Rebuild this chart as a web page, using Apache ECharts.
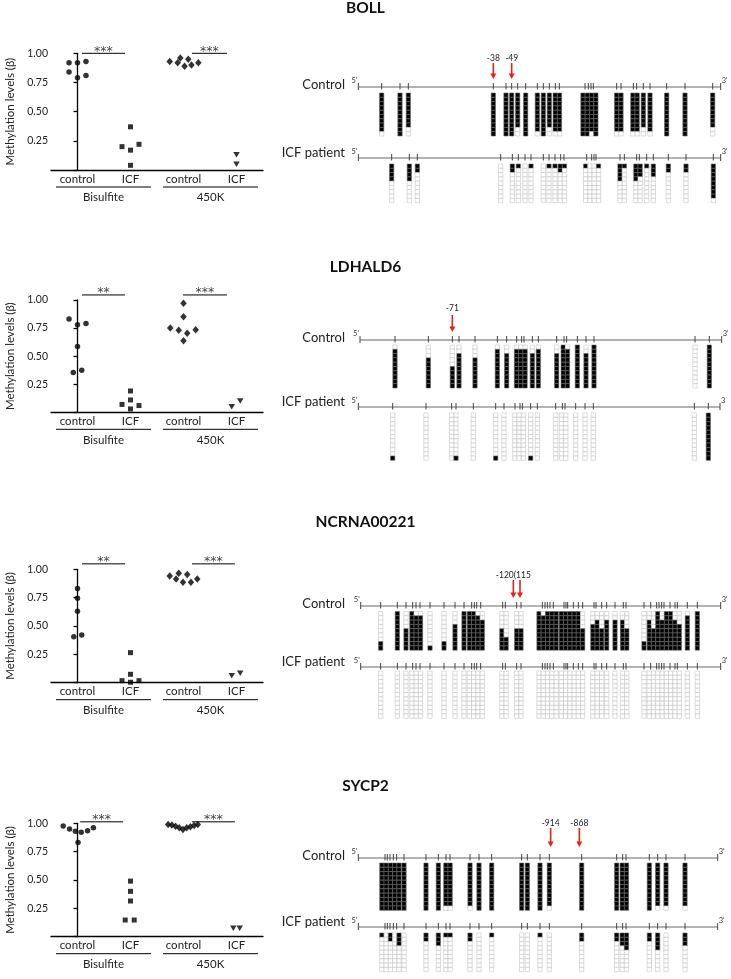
<!DOCTYPE html>
<html><head><meta charset="utf-8">
<script src="https://cdn.jsdelivr.net/npm/echarts@6.0.0/dist/echarts.min.js"></script>
<style>html,body{margin:0;padding:0;background:#fff}#c{width:731px;height:979px}</style>
</head><body><div id="c"></div>
<script>
// ================= DATA =================
const genes = ['BOLL', 'LDHALD6', 'NCRNA00221', 'SYCP2'];
const xCategories = ['control', 'ICF', 'control', 'ICF'];
const methodLabels = ['Bisulfite', '450K'];
const yTickValues = [0, 0.25, 0.5, 0.75, 1.0];
const yAxisTitle = 'Methylation levels (β)';

// --- scatter values (β) and within-group horizontal jitter (category units) ---
const BOLL_bisControl = [0.92, 0.92, 0.93, 0.84, 0.79, 0.81];
const BOLL_bisControlJit = [-0.16, 0, 0.16, -0.16, 0, 0.16];
const BOLL_bisICF = [0.37, 0.20, 0.17, 0.22, 0.04];
const BOLL_bisICFJit = [0, -0.16, 0, 0.16, 0];
const BOLL_k450Control = [0.93, 0.92, 0.96, 0.95, 0.89, 0.90, 0.92];
const BOLL_k450ControlJit = [-0.26, -0.11, -0.06, 0.09, 0.02, 0.15, 0.28];
const BOLL_k450ICF = [0.13, 0.05];
const BOLL_k450ICFJit = [0, 0];

const LDH_bisControl = [0.83, 0.78, 0.79, 0.585, 0.355, 0.375];
const LDH_bisControlJit = [-0.16, 0, 0.16, 0, -0.08, 0.08];
const LDH_bisICF = [0.19, 0.11, 0.07, 0.06, 0.03];
const LDH_bisICFJit = [0, 0, -0.16, 0.16, 0];
const LDH_k450Control = [0.97, 0.85, 0.75, 0.73, 0.705, 0.735, 0.637];
const LDH_k450ControlJit = [0, 0, -0.25, -0.09, 0.07, 0.23, 0];
const LDH_k450ICF = [0.05, 0.10];
const LDH_k450ICFJit = [-0.09, 0.07];

const NC_bisControl = [0.83, 0.745, 0.63, 0.405, 0.42];
const NC_bisControlJit = [0, 0, 0, -0.07, 0.08];
const NC_bisICF = [0.265, 0.074, 0.018, 0.004, 0.018];
const NC_bisICFJit = [0, 0, -0.16, 0, 0.16];
const NC_k450Control = [0.94, 0.965, 0.955, 0.915, 0.885, 0.885, 0.915];
const NC_k450ControlJit = [-0.26, -0.09, 0.07, -0.14, -0.01, 0.14, 0.26];
const NC_k450ICF = [0.062, 0.083];
const NC_k450ICFJit = [-0.09, 0.07];

const SY_bisControl = [0.977, 0.95, 0.93, 0.92, 0.935, 0.96, 0.83];
const SY_bisControlJit = [-0.27, -0.15, -0.04, 0.07, 0.19, 0.30, 0.01];
const SY_bisICF = [0.49, 0.40, 0.315, 0.147, 0.147];
const SY_bisICFJit = [0, 0, 0, -0.1, 0.07];
const SY_k450Control = [0.99, 0.985, 0.975, 0.96, 0.945, 0.96, 0.97, 0.98, 0.99];
const SY_k450ControlJit = [-0.29, -0.22, -0.15, -0.08, -0.01, 0.06, 0.13, 0.2, 0.27];
const SY_k450ICF = [0.074, 0.074];
const SY_k450ICFJit = [-0.06, 0.06];

// --- significance ---
const BOLL_sig = ['***', '***'];
const LDH_sig = ['**', '***'];
const NC_sig = ['**', '***'];
const SY_sig = ['***', '***'];

// --- bisulfite sequencing: CpG positions (amplicon units) and methylated clone counts ---
const BOLL_ctrlCpG = [275, 330, 355, 610, 648, 665, 683, 707, 742, 760, 778, 796, 808, 885, 895, 903, 910, 980, 993, 1030, 1040, 1060, 1080, 1130, 1185, 1268];
const BOLL_ctrlMeth = [9, 10, 8, 10, 10, 10, 8, 10, 9, 10, 8, 9, 9, 10, 10, 9, 10, 9, 9, 9, 9, 8, 9, 10, 10, 8];
const BOLL_ctrlClones = 10;
const BOLL_icfCpG = [305, 358, 382, 632, 667, 685, 705, 723, 760, 777, 795, 812, 822, 890, 905, 912, 918, 990, 1003, 1040, 1048, 1070, 1090, 1135, 1188, 1270];
const BOLL_icfMeth = [4, 4, 2, 0, 2, 1, 0, 1, 0, 1, 1, 2, 1, 1, 0, 0, 1, 4, 1, 4, 3, 1, 3, 2, 2, 8];
const BOLL_icfClones = 9;
const BOLL_arrowPos = [610, 665];
const BOLL_arrowText = ['-38', '-49'];

const LDH_ctrlCpG = [315, 415, 487, 507, 555, 622, 650, 680, 695, 702, 727, 745, 800, 822, 830, 862, 888, 912, 1215, 1258];
const LDH_ctrlMeth = [9, 7, 5, 8, 7, 9, 8, 9, 9, 9, 8, 9, 8, 10, 9, 10, 8, 10, 0, 10];
const LDH_ctrlClones = 10;
const LDH_icfCpG = [308, 408, 485, 498, 550, 617, 642, 675, 690, 697, 722, 742, 797, 817, 825, 857, 885, 910, 1213, 1255];
const LDH_icfMeth = [1, 0, 0, 1, 0, 1, 0, 0, 0, 0, 1, 0, 0, 0, 0, 0, 0, 0, 0, 11];
const LDH_icfClones = 11;
const LDH_arrowPos = [487];
const LDH_arrowText = ['-71'];

const NC_CpG = [272, 322, 348, 368, 378, 390, 420, 462, 495, 522, 545, 553, 560, 572, 638, 646, 680, 693, 757, 765, 772, 780, 790, 822, 828, 833, 850, 865, 878, 912, 918, 935, 950, 975, 1000, 1008, 1062, 1082, 1100, 1107, 1115, 1122, 1140, 1155, 1162, 1192, 1222];
const NC_ctrlMeth = [2, 9, 5, 9, 8, 8, 1, 2, 6, 9, 9, 9, 8, 7, 5, 3, 5, 5, 9, 8, 9, 9, 9, 9, 9, 9, 9, 9, 5, 6, 7, 5, 7, 7, 7, 5, 2, 7, 5, 9, 7, 9, 9, 7, 6, 8, 9];
const NC_ctrlClones = 9;
const NC_icfMeth = NC_CpG.map(() => 0);
const NC_icfClones = 11;
const NC_arrowPos = [670, 690];
const NC_arrowText = ['-120(115', ''];

const SY_CpG = [285, 292, 300, 310, 320, 342, 408, 445, 468, 480, 540, 567, 605, 695, 712, 750, 778, 875, 980, 998, 1008, 1078, 1103, 1128, 1185];
const SY_ctrlMeth = [11, 11, 11, 11, 11, 11, 11, 11, 10, 10, 10, 11, 11, 11, 11, 11, 10, 11, 11, 11, 11, 11, 10, 10, 10];
const SY_ctrlClones = 11;
const SY_icfMeth = [1, 0, 2, 0, 3, 0, 2, 3, 1, 1, 2, 0, 1, 0, 0, 1, 0, 2, 2, 3, 4, 2, 4, 0, 3];
const SY_icfClones = 9;
const SY_arrowPos = [782, 868];
const SY_arrowText = ['-914', '-868'];

// amplicon extents (start, end) for control and ICF tracks
const BOLL_ctrlSpan = [205, 1292], BOLL_icfSpan = [205, 1292];
const LDH_ctrlSpan = [210, 1295], LDH_icfSpan = [205, 1290];
const NC_ctrlSpan = [212, 1292], NC_icfSpan = [212, 1292];
const SY_ctrlSpan = [205, 1283], SY_icfSpan = [205, 1283];

// ================= LAYOUT (pixels) =================
const FONT = 'Lato, "Open Sans", sans-serif';
const titleTops = [0, 259, 514, 778];
const scatterLayout = [
  {top: 53.3, height: 116.7, sigY: 1.0},
  {top: 300, height: 112.3, sigY: 1.045},
  {top: 569.3, height: 113.4, sigY: 1.048},
  {top: 823.3, height: 113.4, sigY: 1.013}
];
const sigSpans = [
  [[0.085, 0.896], [2.16, 2.82]],
  [[0.085, 0.896], [1.99, 2.82]],
  [[0.085, 0.896], [2.16, 2.97]],
  [[0.05, 0.86], [2.16, 2.97]]
];
const bracketSpans = [[-0.406, 1.387], [1.613, 3.406]];
const rightLayout = [
  {ctrlLine: 87, ctrlTop: 93, icfLine: 158, icfTop: 164, arrowTop: 63, arrowBottom: 79, labelY: 58},
  {ctrlLine: 340, ctrlTop: 345, icfLine: 407, icfTop: 413, arrowTop: 315, arrowBottom: 332, labelY: 308},
  {ctrlLine: 606, ctrlTop: 611.5, icfLine: 667, icfTop: 671, arrowTop: 580, arrowBottom: 598, labelY: 575},
  {ctrlLine: 858, ctrlTop: 863, icfLine: 927, icfTop: 933, arrowTop: 828, arrowBottom: 847, labelY: 823}
];
const COL_W = 12.9;  // column width in amplicon units (=4.3px)
const ROW_H = 4.3;   // row height in px units

// ================= BUILD =================
const panels = [
  {groups: [[BOLL_bisControl, BOLL_bisControlJit], [BOLL_bisICF, BOLL_bisICFJit], [BOLL_k450Control, BOLL_k450ControlJit], [BOLL_k450ICF, BOLL_k450ICFJit]], sig: BOLL_sig,
   tracks: [{cpg: BOLL_ctrlCpG, meth: BOLL_ctrlMeth, rows: BOLL_ctrlClones, span: BOLL_ctrlSpan, fromBottom: false, name: 'Control', end: "3'"},
            {cpg: BOLL_icfCpG, meth: BOLL_icfMeth, rows: BOLL_icfClones, span: BOLL_icfSpan, fromBottom: false, name: 'ICF patient', end: "3'"}],
   arrows: [BOLL_arrowPos, BOLL_arrowText]},
  {groups: [[LDH_bisControl, LDH_bisControlJit], [LDH_bisICF, LDH_bisICFJit], [LDH_k450Control, LDH_k450ControlJit], [LDH_k450ICF, LDH_k450ICFJit]], sig: LDH_sig,
   tracks: [{cpg: LDH_ctrlCpG, meth: LDH_ctrlMeth, rows: LDH_ctrlClones, span: LDH_ctrlSpan, fromBottom: true, name: 'Control', end: "3'"},
            {cpg: LDH_icfCpG, meth: LDH_icfMeth, rows: LDH_icfClones, span: LDH_icfSpan, fromBottom: true, name: 'ICF patient', end: "3"}],
   arrows: [LDH_arrowPos, LDH_arrowText]},
  {groups: [[NC_bisControl, NC_bisControlJit], [NC_bisICF, NC_bisICFJit], [NC_k450Control, NC_k450ControlJit], [NC_k450ICF, NC_k450ICFJit]], sig: NC_sig,
   tracks: [{cpg: NC_CpG, meth: NC_ctrlMeth, rows: NC_ctrlClones, span: NC_ctrlSpan, fromBottom: true, name: 'Control', end: "3'"},
            {cpg: NC_CpG, meth: NC_icfMeth, rows: NC_icfClones, span: NC_icfSpan, fromBottom: true, name: 'ICF patient', end: "3'"}],
   arrows: [NC_arrowPos, NC_arrowText]},
  {groups: [[SY_bisControl, SY_bisControlJit], [SY_bisICF, SY_bisICFJit], [SY_k450Control, SY_k450ControlJit], [SY_k450ICF, SY_k450ICFJit]], sig: SY_sig,
   tracks: [{cpg: SY_CpG, meth: SY_ctrlMeth, rows: SY_ctrlClones, span: SY_ctrlSpan, fromBottom: false, name: 'Control', end: "3'"},
            {cpg: SY_CpG, meth: SY_icfMeth, rows: SY_icfClones, span: SY_icfSpan, fromBottom: false, name: 'ICF patient', end: "3'"}],
   arrows: [SY_arrowPos, SY_arrowText]}
];

function spreadColumns(ticks, w) {
  let cl = ticks.map(t => ({s: t, n: 1}));
  let merged = true;
  while (merged) {
    merged = false;
    for (let i = 0; i < cl.length - 1; i++) {
      const a = cl[i], b = cl[i + 1];
      const ra = a.s / a.n + a.n * w / 2, lb = b.s / b.n - b.n * w / 2;
      if (ra > lb + 0.5) { cl.splice(i, 2, {s: a.s + b.s, n: a.n + b.n}); merged = true; break; }
    }
  }
  const out = [];
  cl.forEach(c => { const m = c.s / c.n; for (let k = 0; k < c.n; k++) out.push(m + (k - (c.n - 1) / 2) * w); });
  return out;
}

const symbols = [
  {symbol: 'circle', size: 5.5, rotate: 0},
  {symbol: 'rect', size: 5, rotate: 0},
  {symbol: 'diamond', size: [6.5, 7.5], rotate: 0},
  {symbol: 'triangle', size: [6.5, 5.5], rotate: 180}
];

const grids = [], xAxes = [], yAxes = [], series = [];
panels.forEach((p, i) => {
  const L = scatterLayout[i];
  grids.push({left: 51, width: 212, top: L.top, height: L.height});
  xAxes.push({type: 'category', gridIndex: i, data: xCategories, boundaryGap: true, position: 'bottom',
    axisLine: {lineStyle: {color: '#000', width: 1.3}}, axisTick: {show: false},
    axisLabel: {margin: 3, fontFamily: FONT, fontSize: 11.5, color: '#222'}, splitLine: {show: false}});
  xAxes.push({type: 'value', gridIndex: i, min: -0.5, max: 3.5, show: false});
  yAxes.push({type: 'value', gridIndex: i, min: yTickValues[0], max: yTickValues[yTickValues.length - 1], interval: 0.25,
    name: yAxisTitle, nameLocation: 'middle', nameGap: 35,
    nameTextStyle: {fontFamily: FONT, fontSize: 11.5, color: '#222'},
    axisLine: {show: true, lineStyle: {color: '#000', width: 1.3}},
    axisTick: {show: true, length: 4, lineStyle: {color: '#000', width: 1.3}},
    axisLabel: {formatter: v => v === 0 ? '' : v.toFixed(2), fontFamily: FONT, fontSize: 10.5, color: '#222', margin: 3},
    splitLine: {show: false}});
  p.groups.forEach((g, k) => {
    series.push({type: 'scatter', xAxisIndex: 2 * i + 1, yAxisIndex: i,
      symbol: symbols[k].symbol, symbolSize: symbols[k].size, symbolRotate: symbols[k].rotate,
      itemStyle: {color: '#000'}, data: g[0].map((v, j) => [k + g[1][j], v])});
  });
  // annotations: significance bars + method brackets
  const annots = [];
  sigSpans[i].forEach((s, k) => annots.push({kind: 'sig', x1: s[0], x2: s[1], y: L.sigY, text: p.sig[k]}));
  bracketSpans.forEach((s, k) => annots.push({kind: 'br', x1: s[0], x2: s[1], text: methodLabels[k]}));
  series.push({type: 'custom', xAxisIndex: 2 * i + 1, yAxisIndex: i, silent: true,
    data: annots.map(a => [a.x1, a.x2]),
    renderItem: (params, api) => {
      const a = annots[params.dataIndex];
      if (a.kind === 'sig') {
        const p1 = api.coord([a.x1, a.y]), p2 = api.coord([a.x2, a.y]);
        return {type: 'group', children: [
          {type: 'line', shape: {x1: p1[0], y1: p1[1], x2: p2[0], y2: p2[1]}, style: {stroke: '#000', lineWidth: 1}},
          {type: 'text', style: {text: a.text, x: (p1[0] + p2[0]) / 2, y: p1[1] - 2, align: 'center', verticalAlign: 'middle',
            fontFamily: '"DejaVu Sans"', fontSize: 12.5, fill: '#444'}}
        ]};
      } else {
        const p1 = api.coord([a.x1, 0]), p2 = api.coord([a.x2, 0]);
        const y = p1[1] + 17;
        return {type: 'group', children: [
          {type: 'line', shape: {x1: p1[0], y1: y, x2: p2[0], y2: y}, style: {stroke: '#000', lineWidth: 1}},
          {type: 'text', style: {text: a.text, x: (p1[0] + p2[0]) / 2, y: p1[1] + 27.5, align: 'center', verticalAlign: 'middle',
            fontFamily: FONT, fontSize: 11.5, fill: '#222'}}
        ]};
      }
    }});
});

// right-hand bisulfite sequencing diagrams: one shared grid (x: amplicon units, y: px)
const RG = 4;
grids.push({left: 290, top: 0, width: 441, height: 979});
xAxes.push({type: 'value', gridIndex: RG, min: 0, max: 1323, show: false});
yAxes.push({type: 'value', gridIndex: RG, min: 0, max: 979, inverse: true, show: false});
const RX = xAxes.length - 1, RY = yAxes.length - 1;

const allTracks = [];
panels.forEach((p, i) => {
  const R = rightLayout[i];
  p.tracks.forEach((t, k) => {
    const tr = Object.assign({}, t, {
      line: k === 0 ? R.ctrlLine : R.icfLine,
      top: k === 0 ? R.ctrlTop : R.icfTop,
      labelDy: k === 0 ? -2.5 : -5,
      cols: spreadColumns(t.cpg, COL_W)
    });
    allTracks.push(tr);
    series.push({type: 'custom', xAxisIndex: RX, yAxisIndex: RY, silent: true,
      data: tr.cols.map((x, j) => [x, tr.meth[j]]),
      renderItem: (params, api) => {
        const x = api.value(0), m = api.value(1);
        const sz = api.size([COL_W, ROW_H]);
        const w = Math.abs(sz[0]), h = Math.abs(sz[1]);
        const c = api.coord([x, tr.top]);
        const children = [];
        for (let r = 0; r < tr.rows; r++) {
          const black = tr.fromBottom ? r >= tr.rows - m : r < m;
          children.push({type: 'rect', shape: {x: c[0] - w / 2, y: c[1] + r * h, width: w, height: h},
            style: {fill: black ? '#000' : '#fff', stroke: black ? '#6a6a6a' : '#c4c4c4', lineWidth: 0.6}});
        }
        return {type: 'group', children};
      }});
  });
});

// track lines, CpG ticks and labels
series.push({type: 'custom', xAxisIndex: RX, yAxisIndex: RY, silent: true,
  data: allTracks.map(t => [t.span[0], t.line]),
  renderItem: (params, api) => {
    const t = allTracks[params.dataIndex];
    const a = api.coord([t.span[0], t.line]), b = api.coord([t.span[1], t.line]);
    const ch = [
      {type: 'line', shape: {x1: a[0], y1: a[1], x2: b[0], y2: b[1]}, style: {stroke: '#666', lineWidth: 1}},
      {type: 'line', shape: {x1: a[0], y1: a[1] - 4, x2: a[0], y2: a[1] + 3}, style: {stroke: '#444', lineWidth: 1}},
      {type: 'line', shape: {x1: b[0], y1: b[1] - 4, x2: b[0], y2: b[1] + 3}, style: {stroke: '#444', lineWidth: 1}},
      {type: 'text', style: {text: t.name, x: 345, y: a[1] + t.labelDy, align: 'right', verticalAlign: 'middle', fontFamily: FONT, fontSize: 13, fill: '#222'}},
      {type: 'text', style: {text: "5'", x: a[0] - 1, y: a[1] - 6, align: 'right', verticalAlign: 'middle', fontFamily: FONT, fontSize: 7.5, fill: '#333'}},
      {type: 'text', style: {text: t.end, x: b[0] + 1, y: b[1] - 6, align: 'left', verticalAlign: 'middle', fontFamily: FONT, fontSize: 7.5, fill: '#333'}}
    ];
    t.cpg.forEach(pos => {
      const c = api.coord([pos, t.line]);
      ch.push({type: 'line', shape: {x1: c[0], y1: c[1] - 4, x2: c[0], y2: c[1] + 2.5}, style: {stroke: '#444', lineWidth: 1}});
    });
    return {type: 'group', children: ch};
  }});

// red arrows
const allArrows = [];
panels.forEach((p, i) => p.arrows[0].forEach((pos, k) => allArrows.push({pos, text: p.arrows[1][k], L: rightLayout[i]})));
series.push({type: 'custom', xAxisIndex: RX, yAxisIndex: RY, silent: true,
  data: allArrows.map(a => [a.pos, a.L.arrowTop]),
  renderItem: (params, api) => {
    const a = allArrows[params.dataIndex];
    const t = api.coord([a.pos, a.L.arrowTop]), b = api.coord([a.pos, a.L.arrowBottom]);
    return {type: 'group', children: [
      {type: 'line', shape: {x1: t[0], y1: t[1], x2: b[0], y2: b[1] - 4}, style: {stroke: '#e32219', lineWidth: 1.6}},
      {type: 'polygon', shape: {points: [[b[0] - 3, b[1] - 5.5], [b[0] + 3, b[1] - 5.5], [b[0], b[1]]]}, style: {fill: '#e32219'}},
      {type: 'text', style: {text: a.text, x: t[0], y: api.coord([a.pos, a.L.labelY])[1], align: 'center', verticalAlign: 'middle', fontFamily: FONT, fontSize: 8.5, fill: '#222'}}
    ]};
  }});

const chart = echarts.init(document.getElementById('c'), null, {renderer: 'canvas'});
chart.setOption({
  animation: false,
  backgroundColor: '#fff',
  title: genes.map((g, i) => ({text: g, left: 'center', top: titleTops[i], padding: 0,
    textStyle: {fontFamily: FONT, fontWeight: 'bold', fontSize: 15.5, color: '#111'}})),
  grid: grids, xAxis: xAxes, yAxis: yAxes, series: series
});
</script></body></html>
